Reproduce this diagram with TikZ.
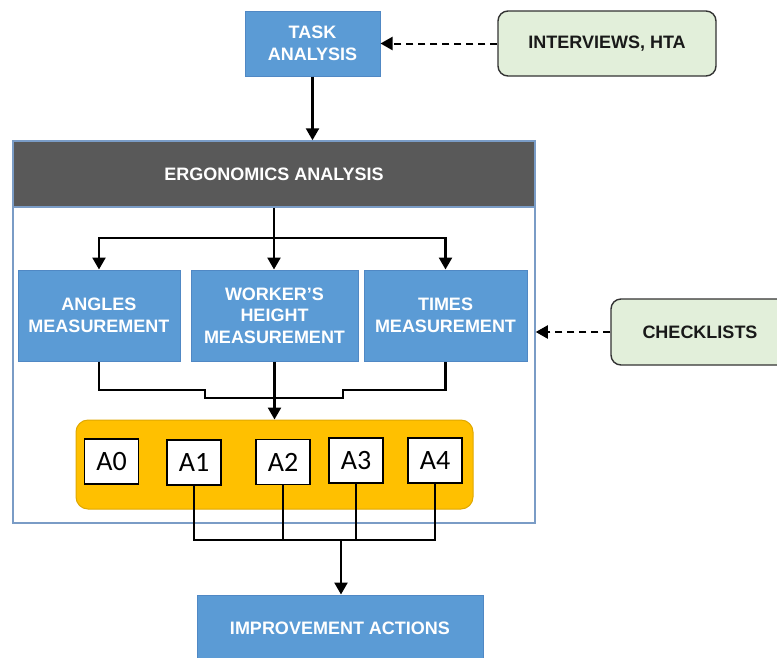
\documentclass[tikz,border=0pt]{standalone}
\usepackage{fontspec}
\setmainfont{Liberation Sans}
\newfontfamily\calfont{Carlito}
\usetikzlibrary{arrows.meta,calc}
\definecolor{boxblue}{HTML}{5B9BD5}
\definecolor{boxedge}{HTML}{5088C4}
\definecolor{frameedge}{HTML}{7A9CC6}
\definecolor{headgray}{HTML}{595959}
\definecolor{greenfill}{HTML}{E2EFDA}
\definecolor{greenedge}{HTML}{333333}
\definecolor{yellowfill}{HTML}{FFC000}
\definecolor{yellowedge}{HTML}{E0A800}
\tikzset{
  lbl/.style={font=\fontsize{18}{21.5}\selectfont\bfseries, align=center, inner sep=0pt},
  bluebox/.style={lbl, fill=boxblue, draw=boxedge, line width=1pt, text=white},
  greenbox/.style={lbl, fill=greenfill, draw=greenedge, line width=1.4pt, rounded corners=10pt, text=black!90},
  abox/.style={draw=black, line width=1.2pt, fill=white, inner sep=0pt, minimum width=54pt, minimum height=45pt, font=\calfont\fontsize{28}{32}\selectfont},
  conn/.style={line width=2.5pt, draw=black},
  thin/.style={line width=2pt, draw=black},
  arr/.style={-{Triangle[length=12pt,width=13pt]}},
  dashedarr/.style={line width=2pt, dash pattern=on 7pt off 5pt, -{Triangle[length=12pt,width=13pt]}}
}
\begin{document}
\begin{tikzpicture}[x=1pt,y=-1pt]
\useasboundingbox (0,0) rectangle (777,657);
\clip (0,0) rectangle (777,657);
% frame and header
\node[draw=frameedge, line width=1.5pt, minimum width=522pt, minimum height=382pt, inner sep=0pt] (frame) at (274,332) {};
\node[lbl, fill=headgray, draw=frameedge, line width=1.5pt, text=white, minimum width=522pt, minimum height=66pt] (erg) at (274,174) {ERGONOMICS ANALYSIS};
% top boxes
\node[bluebox, minimum width=135pt, minimum height=65pt] (task) at (312.5,43.5) {TASK\\ANALYSIS};
\node[greenbox, minimum width=218pt, minimum height=65pt] (inter) at (607,43.5) {INTERVIEWS, HTA};
\node[greenbox, minimum width=178pt, minimum height=66pt] (check) at (700,332) {CHECKLISTS};
% measurement boxes
\node[bluebox, minimum width=162pt, minimum height=91pt] (ang) at (99,315.5) {ANGLES\\MEASUREMENT};
\node[bluebox, minimum width=167pt, minimum height=91pt] (work) at (274.5,315.5) {WORKER’S\\HEIGHT\\MEASUREMENT};
\node[bluebox, minimum width=163pt, minimum height=91pt] (times) at (445.5,315.5) {TIMES\\MEASUREMENT};
% yellow container
\node[fill=yellowfill, draw=yellowedge, line width=1pt, rounded corners=12pt, minimum width=397pt, minimum height=89pt, inner sep=0pt] (yel) at (274.5,464.5) {};
\node[abox] (a0) at (111.5,461.5) {A0};
\node[abox] (a1) at (194,462.5) {A1};
\node[abox] (a2) at (283,462) {A2};
\node[abox] (a3) at (356,460.5) {A3};
\node[abox] (a4) at (435,460.5) {A4};
% improvement
\node[bluebox, minimum width=286pt, minimum height=66pt] (imp) at (340,628) {IMPROVEMENT ACTIONS};
% connectors
\draw[conn, arr] (task.south) -- (task.south |- erg.north);
\draw[dashedarr] (inter.west) -- (task.east);
\draw[dashedarr] (check.west) -- (check.west -| frame.east);
\coordinate (br) at (274,238);
\draw[conn] (erg.south) -- (br);
\draw[conn, arr] (br) -| (ang.north);
\draw[conn, arr] (br) -| (times.north);
\draw[conn, arr] (br) -- (br |- work.north);
\coordinate (m1) at (205,390);
\coordinate (m2) at (205,398);
\coordinate (m3) at (343,398);
\coordinate (m4) at (343,390);
\draw[conn] (ang.south) |- (m1) -- (m2) -- (m3) -- (m4) -| (times.south);
\draw[conn, arr] (work.south) -- (work.south |- yel.north);
\coordinate (bot) at (341,540);
\draw[thin] (a1.south) |- (bot) -| (a4.south);
\draw[thin] (a2.south) -- (a2.south |- bot);
\draw[thin] (a3.south) -- (a3.south |- bot);
\draw[conn, arr] (bot) -- (bot |- imp.north);
\end{tikzpicture}
\end{document}
